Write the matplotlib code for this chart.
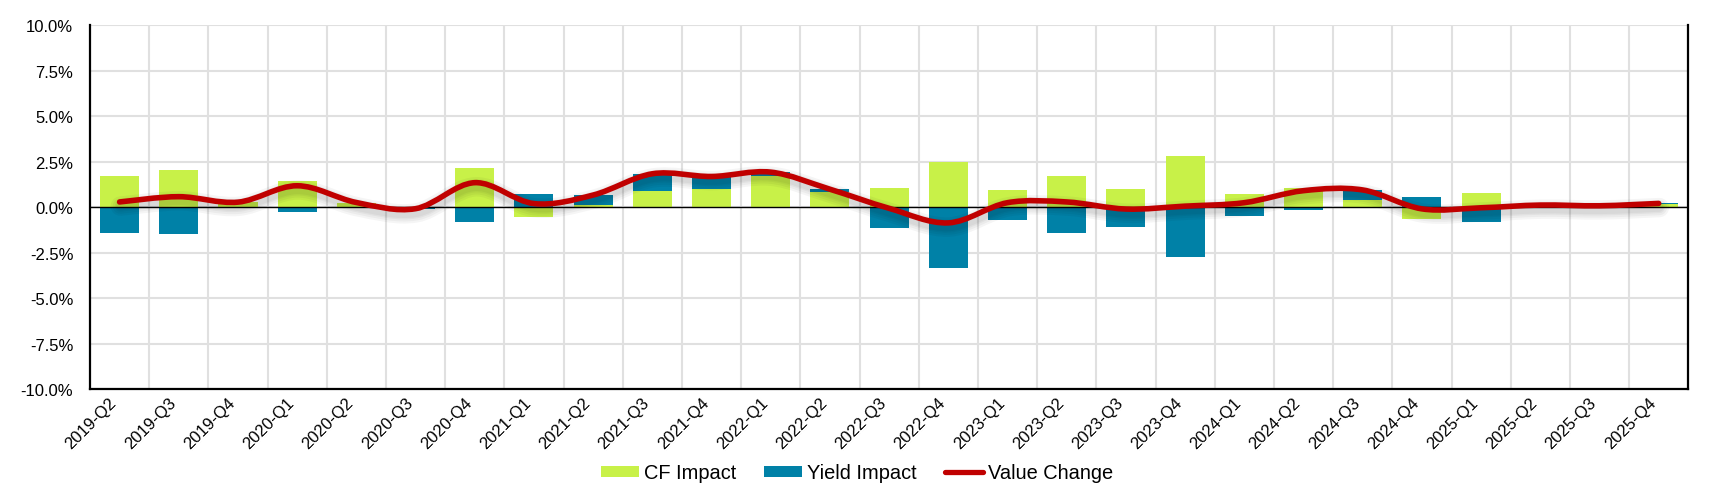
import matplotlib

matplotlib.use("Agg")
import matplotlib.patheffects as pe
import matplotlib.pyplot as plt
import numpy as np
from matplotlib.lines import Line2D
from matplotlib.patches import Patch, PathPatch
from matplotlib.path import Path
from matplotlib.ticker import FixedLocator

QUARTERS = [
    "2019-Q2", "2019-Q3", "2019-Q4",
    "2020-Q1", "2020-Q2", "2020-Q3", "2020-Q4",
    "2021-Q1", "2021-Q2", "2021-Q3", "2021-Q4",
    "2022-Q1", "2022-Q2", "2022-Q3", "2022-Q4",
    "2023-Q1", "2023-Q2", "2023-Q3", "2023-Q4",
    "2024-Q1", "2024-Q2", "2024-Q3", "2024-Q4",
    "2025-Q1", "2025-Q2", "2025-Q3", "2025-Q4",
]
CF_IMPACT = [1.72, 2.05, 0.27, 1.44, 0.20, 0.00, 2.16, -0.54, 0.11, 0.89, 1.00, 1.73, 0.85, 1.07,
             2.49, 0.94, 1.72, 1.00, 2.82, 0.72, 1.05, 0.39, -0.65, 0.77, 0.08, 0.06, 0.17]
YIELD_IMPACT = [-1.44, -1.49, 0.00, -0.28, 0.05, -0.09, -0.83, 0.72, 0.55, 0.94, 0.68, 0.19, 0.13, -1.14,
                -3.36, -0.70, -1.44, -1.11, -2.77, -0.48, -0.15, 0.55, 0.55, -0.81, 0.03, 0.02, 0.05]
VALUE_CHANGE = [0.28, 0.57, 0.27, 1.17, 0.25, -0.09, 1.34, 0.19, 0.66, 1.83, 1.68, 1.92, 0.98, -0.07,
                -0.87, 0.24, 0.28, -0.11, 0.05, 0.24, 0.90, 0.94, -0.10, -0.04, 0.11, 0.07, 0.20]
Y_TICKS = [-10.0, -7.5, -5.0, -2.5, 0.0, 2.5, 5.0, 7.5, 10.0]

GREEN = "#c8f148"
BLUE = "#0081a7"
RED = "#c00000"
GRID = "#e0e0e0"

plt.rcParams.update(
    {
        "font.family": ["Liberation Sans", "DejaVu Sans"],
        "font.size": 12,
        "text.color": "black",
        "xtick.color": "black",
        "ytick.color": "black",
    }
)


def spline_path(xs, ys):
    # Catmull-Rom spline turned into cubic bezier segments
    pts = np.column_stack([xs, ys]).astype(float)
    n = len(pts)
    verts = [pts[0]]
    codes = [Path.MOVETO]
    for i in range(n - 1):
        p0 = pts[max(i - 1, 0)]
        p1 = pts[i]
        p2 = pts[i + 1]
        p3 = pts[min(i + 2, n - 1)]
        verts += [p1 + (p2 - p0) / 6, p2 - (p3 - p1) / 6, p2]
        codes += [Path.CURVE4] * 3
    return Path(verts, codes)


fig = plt.figure(figsize=(17.14, 5.02), dpi=100)
ax = fig.add_axes([0.0525, 0.2231, 0.9325, 0.7249])

x = np.arange(len(QUARTERS))
cf = np.array(CF_IMPACT)
yld = np.array(YIELD_IMPACT)
# positive values stack upward, negative downward
yld_bottom = np.where(np.sign(yld) == np.sign(cf), cf, 0.0)

ax.bar(x, cf, width=0.66, color=GREEN, zorder=2)
ax.bar(x, yld, bottom=yld_bottom, width=0.66, color=BLUE, zorder=2)
ax.axhline(0, color="black", linewidth=1.0, zorder=3)

shadow = [
    pe.SimpleLineShadow(offset=(0.5, -3), shadow_color="black", alpha=0.04, linewidth=w)
    for w in (14, 11, 8, 6)
]
curve = PathPatch(
    spline_path(x, VALUE_CHANGE),
    fill=False,
    edgecolor=RED,
    linewidth=4.0,
    capstyle="round",
    joinstyle="round",
    zorder=4,
)
curve.set_path_effects(shadow + [pe.Normal()])
ax.add_patch(curve)

ax.set_xlim(-0.5, len(QUARTERS) - 0.5)
ax.set_ylim(-10, 10)
ax.set_yticks(Y_TICKS)
ax.set_yticklabels([f"{v:.1f}%" for v in Y_TICKS])
ax.set_xticks(x)
ax.set_xticklabels(QUARTERS, rotation=45, ha="right")
ax.xaxis.set_minor_locator(FixedLocator(x[:-1] + 0.5))
ax.tick_params(axis="both", which="both", length=0)
ax.tick_params(axis="y", pad=12)
ax.tick_params(axis="x", pad=4)

ax.grid(True, axis="y", which="major", color=GRID, linewidth=1.5, zorder=0)
ax.grid(True, axis="x", which="minor", color=GRID, linewidth=1.5, zorder=0)
ax.set_axisbelow(True)

ax.spines["top"].set_visible(False)
for side in ("left", "right", "bottom"):
    ax.spines[side].set_color("black")
    ax.spines[side].set_linewidth(1.6)

handles = [
    Patch(facecolor=GREEN, edgecolor="none"),
    Patch(facecolor=BLUE, edgecolor="none"),
    Line2D([], [], color=RED, linewidth=3.8, solid_capstyle="round"),
]
fig.legend(
    handles,
    ["CF Impact", "Yield Impact", "Value Change"],
    loc="center",
    bbox_to_anchor=(0.5, 0.056),
    bbox_transform=fig.transFigure,
    ncol=3,
    frameon=False,
    fontsize=14.4,
    handlelength=1.9,
    handleheight=0.5,
    handletextpad=0.25,
    columnspacing=1.4,
    borderpad=0,
)

fig.savefig("out.png", dpi=100)
